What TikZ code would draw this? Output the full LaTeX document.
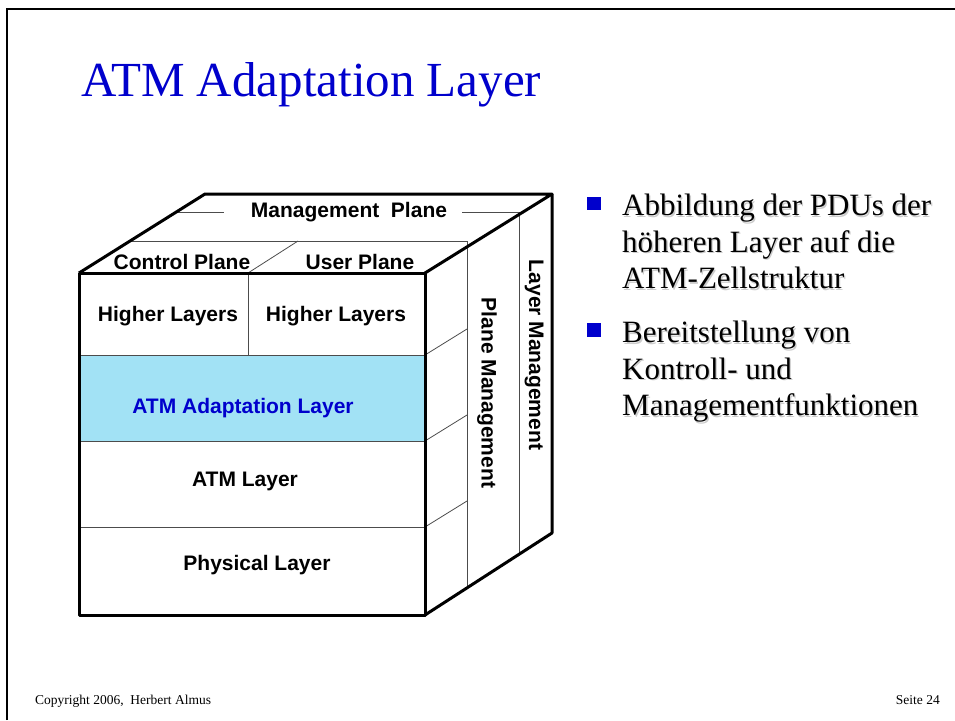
\documentclass[tikz,border=0pt]{standalone}
\usepackage{fontspec}
\setmainfont{Liberation Serif}
\newfontfamily\arialfont{Liberation Sans}
\definecolor{slideblue}{RGB}{0,0,204}
\definecolor{aalcyan}{RGB}{162,226,245}

\begin{document}
\begin{tikzpicture}[x=1pt,y=-1pt,
        edge/.style={line width=3pt, line join=round},
        inner/.style={line width=0.8pt, black!70},
        lbl/.style={font=\arialfont\bfseries\fontsize{21}{25}\selectfont, inner sep=0pt},
        item/.style={font=\fontsize{31}{36.5}\selectfont, align=left, anchor=north west, inner sep=0pt},
        bulletbox/.style={fill=slideblue}]
    \useasboundingbox (0,0) rectangle (955,720);
    % slide frame and title
    \draw[line width=2.5pt] (7,720) -- (7,9) -- (955,9);
    \node[anchor=base west, inner sep=0pt, text=slideblue, font=\fontsize{49}{55}\selectfont] (title) at (81,96) {ATM Adaptation Layer};

    % cube corners
    \coordinate (fTL) at (79,273);
    \coordinate (fTR) at (425,273);
    \coordinate (fBR) at (425,615);
    \coordinate (fBL) at (79,615);
    \coordinate (bTL) at (205,194);
    \coordinate (bTR) at (552,194);
    \coordinate (bBR) at (552,533);

    % front face layers
    \fill[aalcyan] (79,355) rectangle (425,441);
    \draw[inner] (79,355) -- (425,355);
    \draw[inner] (79,441) -- (425,441);
    \draw[inner] (79,527) -- (425,527);
    \draw[inner] (248,273) -- (248,355);

    % right face
    \draw[inner] (425,355) -- (467,329);
    \draw[inner] (425,441) -- (467,415);
    \draw[inner] (425,527) -- (467,501);
    \draw[inner] (467,241) -- (467,588);
    \draw[inner] (519,212) -- (519,555);

    % top face
    \draw[inner] (130,241) -- (467,241);
    \draw[inner] (248,273) -- (298,241);
    \draw[inner] (176,212) -- (224,212);
    \draw[inner] (462,212) -- (521,212);

    % cube outline
    \draw[edge] (fTL) rectangle (fBR);
    \draw[edge] (fTL) -- (bTL) -- (bTR) -- (fTR);
    \draw[edge] (bTR) -- (bBR) -- (fBR);

    % labels
    \node[lbl] (mgmt) at (349,212) {Management\ \ Plane};
    \node[lbl] (ctrl) at (182,262) {Control Plane};
    \node[lbl] (user) at (360,262) {User Plane};
    \node[lbl] (hl1) at (168,316) {Higher Layers};
    \node[lbl] (hl2) at (336,316) {Higher Layers};
    \node[lbl, text=slideblue] (aal) at (243,408) {ATM Adaptation Layer};
    \node[lbl] (atm) at (245,481) {ATM Layer};
    \node[lbl] (phy) at (257,565) {Physical Layer};
    \node[lbl, rotate=-90] (planemgmt) at (487,393) {Plane Management};
    \node[lbl, rotate=-90] (layermgmt) at (534,355) {Layer Management};

    % bullets
    \fill[bulletbox] (587,197) rectangle (601,210);
    \fill[bulletbox] (587,323) rectangle (601,337);
    \node[item, text=black!20] at (623.3,195.3) {Abbildung der PDUs der\\h\"oheren Layer auf die\\ATM-Zellstruktur};
    \node[item] (b1) at (622,194) {Abbildung der PDUs der\\h\"oheren Layer auf die\\ATM-Zellstruktur};
    \node[item, text=black!20] at (623.3,322.3) {Bereitstellung von\\Kontroll- und\\Managementfunktionen};
    \node[item] (b2) at (622,321) {Bereitstellung von\\Kontroll- und\\Managementfunktionen};

    % footer
    \node[anchor=base west, inner sep=0pt, font=\fontsize{13.5}{16}\selectfont] (copy) at (35,704) {Copyright 2006,\ \ Herbert Almus};
    \node[anchor=base east, inner sep=0pt, font=\fontsize{13.5}{16}\selectfont] (page) at (940,704) {Seite 24};
\end{tikzpicture}
\end{document}
